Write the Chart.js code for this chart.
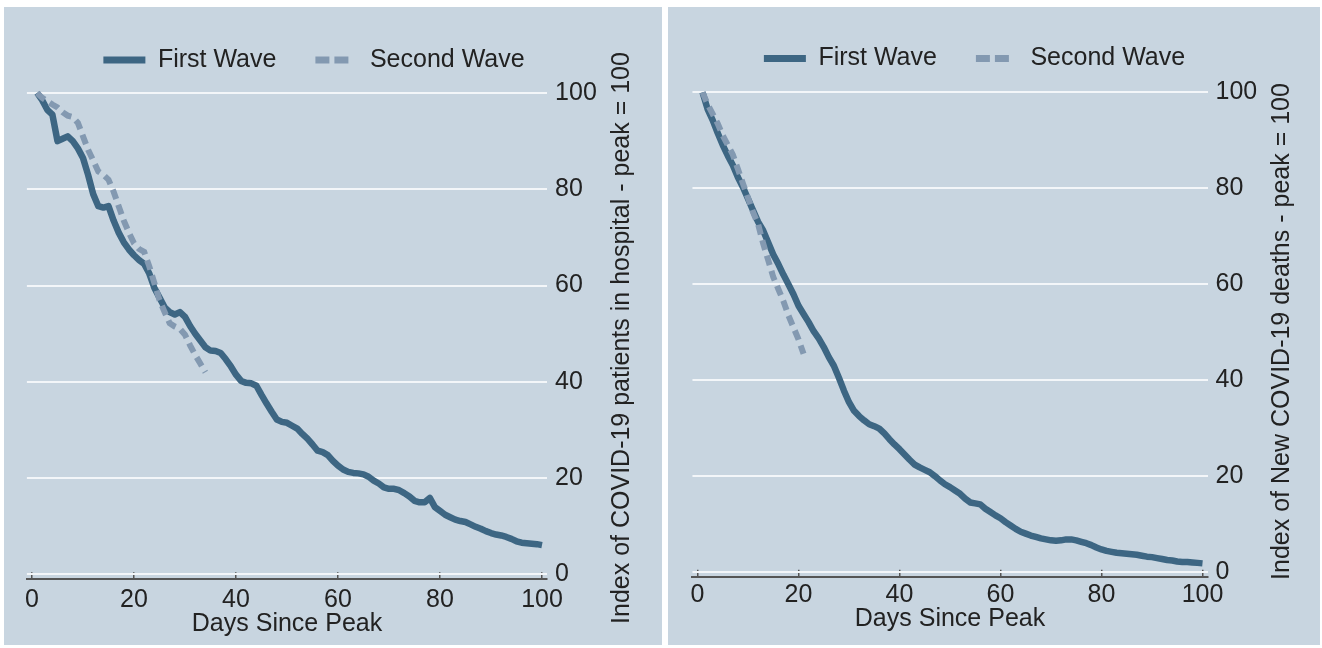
<!DOCTYPE html>
<html><head><meta charset="utf-8">
<script src="https://cdn.jsdelivr.net/npm/chart.js@4.4.1/dist/chart.umd.min.js"></script>
<style>
html,body{margin:0;padding:0;background:#ffffff;width:1322px;height:648px;overflow:hidden;}
.panel{position:absolute;background:#c8d5e0;}
#p1{left:4px;top:7px;width:658px;height:638px;}
#p2{left:668px;top:7px;width:652px;height:638px;}
canvas{display:block;}
</style></head><body>
<div class="panel" id="p1"><canvas id="c1" width="658" height="638"></canvas></div>
<div class="panel" id="p2"><canvas id="c2" width="652" height="638"></canvas></div>
<script>
// ---- data ----
const days = [1,2,3,4,5,6,7,8,9,10,11,12,13,14,15,16,17,18,19,20,21,22,23,24,25,26,27,28,29,30,
31,32,33,34,35,36,37,38,39,40,41,42,43,44,45,46,47,48,49,50,51,52,53,54,55,56,57,58,59,60,
61,62,63,64,65,66,67,68,69,70,71,72,73,74,75,76,77,78,79,80,81,82,83,84,85,86,87,88,89,90,
91,92,93,94,95,96,97,98,99,100];
const xTickValues = [0,20,40,60,80,100];
const yTickValues = [0,20,40,60,80,100];
const seriesNames = ['First Wave','Second Wave'];
const xTitle = 'Days Since Peak';
const hospTitle = 'Index of COVID-19 patients in hospital - peak = 100';
const deathsTitle = 'Index of New COVID-19 deaths - peak = 100';

const hospFirst = [100,98.5,96.5,95.5,90,90.5,91,90,88.5,86.5,
 83,79,76.5,76.2,76.5,73.5,71,69,67.5,66.3,
 65.3,64.5,62.5,59.5,57.5,55.5,54.5,54,54.5,53.5,
 51.6,50,48.6,47.2,46.5,46.4,46,44.7,43.2,41.5,
 40.2,39.8,39.7,39.2,37.3,35.5,33.8,32.2,31.7,31.5,
 30.9,30.3,29.2,28.2,27,25.7,25.4,24.8,23.6,22.6,
 21.8,21.3,21.1,21,20.8,20.3,19.5,18.9,18.1,17.8,
 17.8,17.5,16.9,16.2,15.3,15,15,15.9,14,13.2,
 12.4,11.9,11.4,11.1,10.9,10.4,9.9,9.5,9,8.6,
 8.3,8.1,7.8,7.4,6.9,6.6,6.5,6.4,6.3,6.1];
const hospSecond = [100,99,98.3,97.6,97,96,95.3,95,93.8,91,
 88.2,86,83.7,83,82,79.5,76.5,73.5,71,68.8,
 67.6,67,64,60.5,57,54.5,52.2,51.5,51,49.8,
 47.6,45.6,43.8,42];
const deathsFirst = [100,96.5,94.2,91.5,89,86.8,84.8,82.3,80.2,77.8,
 75.4,73,71.2,68.7,66.2,64.2,62,60,57.9,55.5,
 53.8,52.1,50.2,48.7,46.9,44.8,43,40.5,37.8,35.4,
 33.6,32.5,31.6,30.8,30.4,29.9,28.9,27.7,26.6,25.6,
 24.5,23.4,22.4,21.8,21.3,20.8,20,19.1,18.3,17.7,
 17,16.3,15.3,14.5,14.3,14.1,13.2,12.5,11.8,11.2,
 10.4,9.7,9,8.4,8,7.6,7.3,7,6.8,6.6,
 6.5,6.6,6.8,6.8,6.6,6.3,6,5.6,5.1,4.7,
 4.4,4.2,4,3.9,3.8,3.7,3.6,3.4,3.2,3.1,
 2.9,2.7,2.5,2.4,2.2,2.1,2.1,2,1.9,1.8];
const deathsSecond = [100,97.5,95.5,93.5,91,89,87,84,81,78,
 75,72.5,68.5,65,61.5,59,56.5,53.5,51,48.5,
 45.5];

// ---- styling ----
const FONT = '"Liberation Sans", Arial, Helvetica, sans-serif';
Chart.defaults.font.family = FONT;
const TEXT = '#222222';
const C1 = '#3d6683';
const C2 = '#8399b1';

const yTitlePlugin = {
  id: 'yTitle',
  afterDraw(chart, args, o) {
    const ctx = chart.ctx;
    ctx.save();
    ctx.font = '25px ' + FONT;
    ctx.fillStyle = TEXT;
    ctx.textAlign = 'center';
    ctx.textBaseline = 'middle';
    ctx.translate(o.x, o.y);
    ctx.rotate(-Math.PI / 2);
    ctx.fillText(o.text, 0, 0);
    ctx.restore();
  }
};

function pts(vals) { return vals.map((v, i) => ({x: days[i], y: v})); }

function makeChart(id, first, second, g) {
  new Chart(document.getElementById(id), {
    type: 'line',
    data: {
      datasets: [
        {label: seriesNames[0], data: pts(first), borderColor: C1, backgroundColor: C1,
         borderWidth: 6.5, pointRadius: 0, tension: 0, borderJoinStyle: 'round', borderCapStyle: 'butt', order: 2},
        {label: seriesNames[1], data: pts(second), borderColor: C2, backgroundColor: C2,
         borderWidth: 6, borderDash: [10, 6], pointRadius: 0, tension: 0, borderJoinStyle: 'miter', order: 1}
      ]
    },
    options: {
      responsive: false, animation: false, devicePixelRatio: 1,
      layout: {padding: {top: g.pt, left: g.pl, right: g.pr, bottom: 0}},
      plugins: {
        tooltip: {enabled: false},
        yTitle: {text: g.title, x: g.tx, y: g.ty},
        legend: {
          display: true, position: 'top', align: 'center',
          labels: {
            usePointStyle: true, pointStyleWidth: 42, padding: 39,
            font: {size: 25}, color: TEXT,
            generateLabels: (chart) => chart.data.datasets.map((ds, i) => ({
              text: ds.label, fillStyle: ds.borderColor, strokeStyle: ds.borderColor,
              fontColor: TEXT, lineWidth: 7, lineCap: 'butt',
              lineDash: i === 0 ? [] : [14, 5, 14, 100],
              pointStyle: 'line', hidden: false, datasetIndex: i
            }))
          }
        }
      },
      scales: {
        x: {
          type: 'linear', min: -1, max: 101,
          afterBuildTicks: s => { s.ticks = xTickValues.map(v => ({value: v})); },
          afterFit: s => { s.height = g.xh; },
          grid: {display: true, drawOnChartArea: false, drawTicks: true, tickLength: -7, color: '#555555', lineWidth: 1.5},
          border: {display: true, color: '#555555', width: 2},
          ticks: {font: {size: 25}, color: TEXT, padding: g.xpad, maxRotation: 0, autoSkip: false},
          title: {display: true, text: xTitle, font: {size: 25}, color: TEXT, padding: {top: 0, bottom: g.tpb}}
        },
        y: {
          type: 'linear', position: 'right', min: -1, max: g.ymax,
          afterBuildTicks: s => { s.ticks = yTickValues.map(v => ({value: v})); },
          afterFit: s => { s.width = g.yw; },
          grid: {color: '#f3f6f9', lineWidth: 2, drawTicks: false},
          border: {display: false},
          ticks: {font: {size: 25}, color: TEXT, padding: 8}
        }
      }
    },
    plugins: [yTitlePlugin]
  });
}

makeChart('c1', hospFirst, hospSecond,
  {pt: 1.5, pl: 22.9, pr: 60.9, yw: 54, xh: 65.7, ymax: 102.18, xpad: 12.7, tpb: 6,
   title: hospTitle, tx: 618, ty: 331});
makeChart('c2', deathsFirst, deathsSecond,
  {pt: 0, pl: 24.45, pr: 63.45, yw: 49, xh: 68.2, ymax: 102.36, xpad: 10.2, tpb: 11,
   title: deathsTitle, tx: 614, ty: 324.5});
</script>
</body></html>
